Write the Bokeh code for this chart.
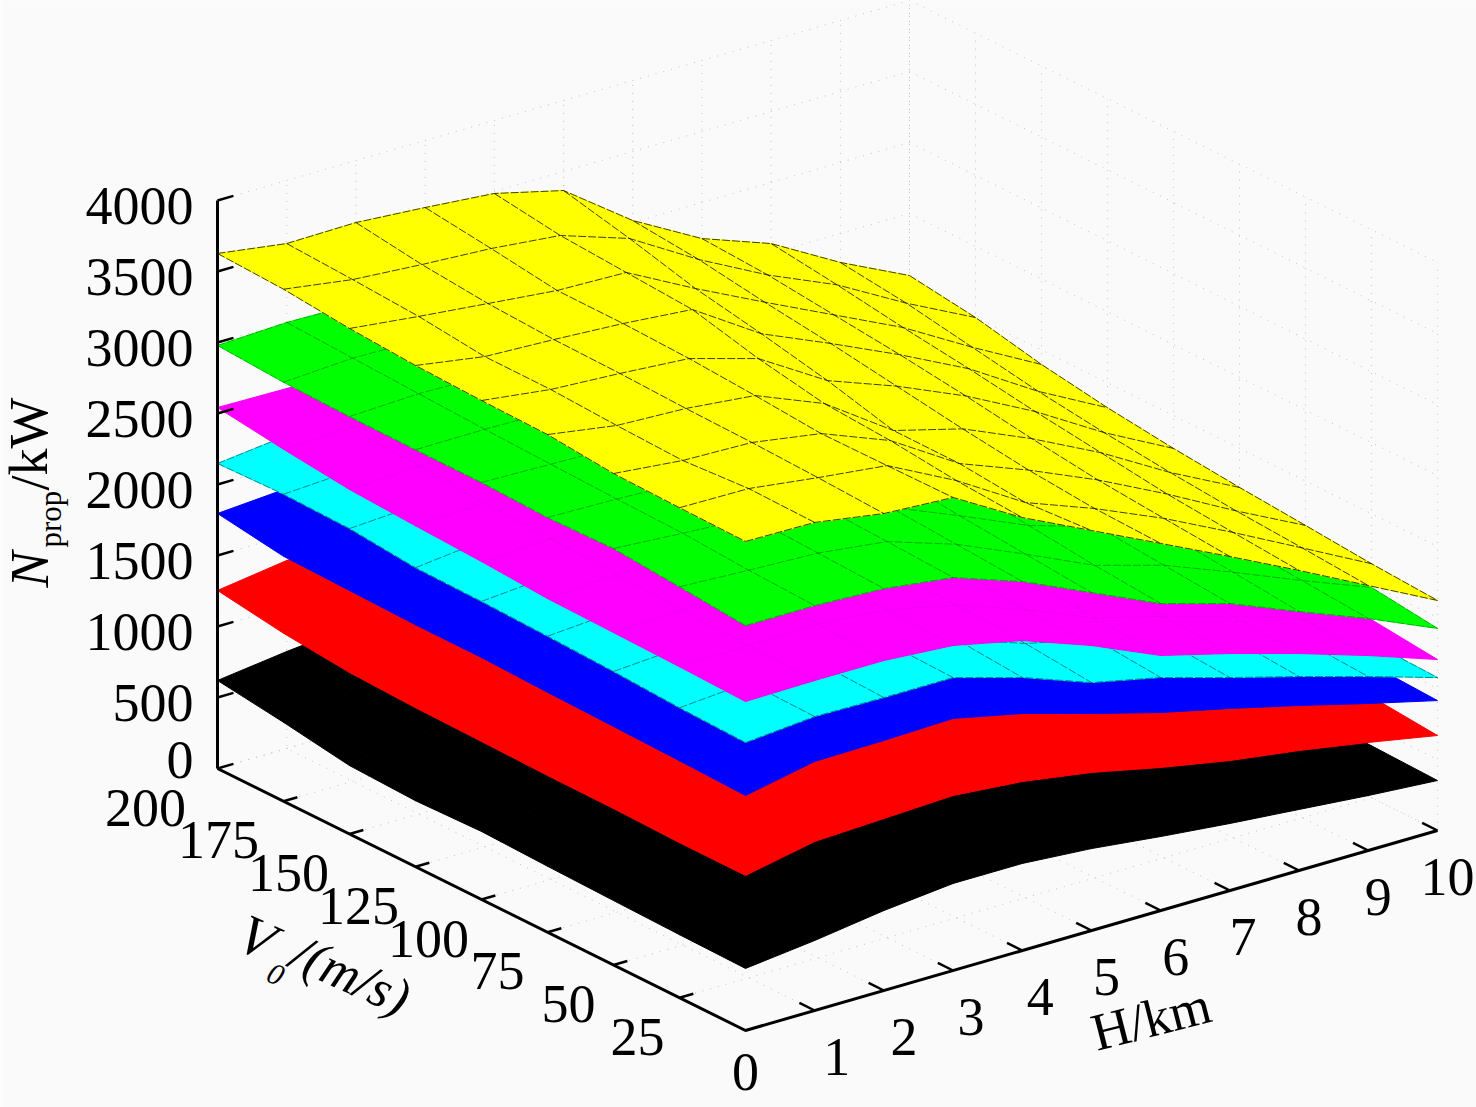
from bokeh.plotting import figure
from bokeh.models import Range1d
from bokeh.embed import file_html
from bokeh.resources import INLINE
from bokeh.core.properties import value

# ---- data ----
H_km = [0, 1, 2, 3, 4, 5, 6, 7, 8, 9, 10]
V_ms = [200, 175, 150, 125, 100, 75, 50, 25, 0]
N_ticks = [0, 500, 1000, 1500, 2000, 2500, 3000, 3500, 4000]

black_kw = [
    [620, 683, 732, 760, 760, 720, 650, 580, 520, 460, 410],
    [556, 640, 700, 730, 730, 695, 630, 565, 505, 445, 400],
    [482, 600, 670, 710, 710, 675, 610, 550, 495, 435, 395],
    [465, 570, 640, 690, 690, 655, 595, 535, 480, 425, 390],
    [479, 550, 620, 670, 670, 635, 580, 520, 470, 415, 385],
    [465, 530, 600, 655, 650, 620, 565, 505, 455, 405, 380],
    [454, 515, 585, 640, 635, 605, 550, 495, 445, 400, 375],
    [444, 500, 575, 625, 625, 590, 535, 480, 435, 390, 366],
    [437, 493, 563, 613, 613, 577, 521, 472, 430, 387, 352],
]
red_kw = [
    [1254, 1324, 1340, 1340, 1300, 1230, 1120, 1020, 930, 840, 750],
    [1183, 1290, 1310, 1320, 1285, 1215, 1105, 1005, 920, 830, 740],
    [1137, 1260, 1290, 1305, 1270, 1200, 1090, 990, 910, 820, 735],
    [1120, 1240, 1270, 1290, 1255, 1185, 1080, 975, 900, 810, 730],
    [1113, 1225, 1255, 1275, 1240, 1170, 1065, 965, 890, 800, 725],
    [1104, 1215, 1240, 1265, 1230, 1155, 1050, 950, 880, 790, 720],
    [1102, 1205, 1230, 1255, 1215, 1140, 1035, 940, 870, 780, 715],
    [1092, 1195, 1220, 1245, 1200, 1125, 1020, 925, 855, 770, 711],
    [1092, 1190, 1211, 1232, 1190, 1113, 1007, 915, 845, 761, 669],
]
blue_kw = [
    [1796, 1831, 1840, 1820, 1760, 1680, 1550, 1420, 1290, 1160, 1040],
    [1725, 1800, 1820, 1810, 1750, 1660, 1530, 1400, 1270, 1140, 1020],
    [1715, 1790, 1810, 1805, 1740, 1640, 1510, 1385, 1255, 1125, 1005],
    [1704, 1780, 1800, 1800, 1730, 1620, 1490, 1370, 1240, 1110, 990],
    [1704, 1775, 1790, 1795, 1715, 1600, 1470, 1350, 1225, 1095, 975],
    [1690, 1770, 1780, 1790, 1705, 1580, 1450, 1335, 1210, 1080, 960],
    [1680, 1765, 1775, 1785, 1695, 1560, 1430, 1320, 1195, 1065, 950],
    [1669, 1760, 1768, 1780, 1680, 1545, 1410, 1300, 1180, 1050, 937],
    [1655, 1754, 1761, 1775, 1669, 1528, 1394, 1282, 1162, 1035, 915],
]
cyan_kw = [
    [2148, 2204, 2200, 2180, 2120, 2000, 1880, 1720, 1560, 1400, 1260],
    [2162, 2190, 2190, 2170, 2100, 1980, 1860, 1700, 1540, 1380, 1240],
    [2151, 2180, 2170, 2150, 2080, 1950, 1830, 1680, 1520, 1360, 1220],
    [2106, 2160, 2160, 2130, 2060, 1920, 1800, 1650, 1490, 1340, 1200],
    [2099, 2140, 2140, 2120, 2030, 1890, 1770, 1620, 1470, 1320, 1180],
    [2085, 2120, 2120, 2110, 2010, 1860, 1740, 1590, 1450, 1290, 1150],
    [2067, 2100, 2100, 2090, 1990, 1830, 1710, 1570, 1430, 1270, 1130],
    [2042, 2080, 2080, 2075, 1960, 1790, 1680, 1530, 1400, 1250, 1093],
    [2028, 2070, 2063, 2063, 1923, 1746, 1641, 1500, 1366, 1225, 1077],
]
magenta_kw = [
    [2542, 2535, 2520, 2490, 2400, 2280, 2100, 1950, 1800, 1650, 1530],
    [2479, 2490, 2490, 2460, 2370, 2240, 2060, 1920, 1770, 1620, 1490],
    [2426, 2450, 2460, 2430, 2340, 2200, 2020, 1880, 1730, 1580, 1450],
    [2401, 2420, 2430, 2400, 2310, 2170, 1980, 1840, 1700, 1540, 1410],
    [2380, 2400, 2410, 2380, 2280, 2130, 1940, 1800, 1660, 1500, 1380],
    [2350, 2380, 2390, 2360, 2260, 2100, 1900, 1760, 1620, 1470, 1340],
    [2341, 2360, 2370, 2340, 2230, 2070, 1870, 1730, 1590, 1440, 1300],
    [2331, 2340, 2350, 2310, 2200, 2030, 1830, 1700, 1560, 1400, 1254],
    [2317, 2324, 2324, 2289, 2183, 2007, 1796, 1669, 1528, 1373, 1204],
]
green_kw = [
    [2979, 3000, 2990, 2950, 2880, 2750, 2550, 2350, 2160, 1990, 1820],
    [2951, 2980, 2970, 2930, 2850, 2710, 2500, 2310, 2120, 1950, 1770],
    [2940, 2960, 2950, 2910, 2810, 2660, 2450, 2270, 2080, 1900, 1720],
    [2937, 2940, 2930, 2880, 2770, 2610, 2400, 2230, 2040, 1850, 1680],
    [2937, 2925, 2910, 2860, 2730, 2560, 2350, 2190, 2000, 1800, 1640],
    [2921, 2910, 2890, 2830, 2700, 2510, 2300, 2150, 1960, 1750, 1590],
    [2933, 2900, 2870, 2810, 2660, 2460, 2250, 2100, 1910, 1700, 1538],
    [2894, 2870, 2850, 2790, 2630, 2420, 2200, 2060, 1870, 1670, 1481],
    [2852, 2852, 2831, 2768, 2599, 2380, 2162, 2021, 1824, 1634, 1423],
]
yellow_kw = [
    [3627, 3556, 3563, 3528, 3486, 3366, 3014, 2746, 2570, 2296, 2063],
    [3606, 3533, 3498, 3470, 3421, 3259, 2970, 2720, 2510, 2240, 1998],
    [3560, 3504, 3454, 3405, 3391, 3137, 2900, 2670, 2440, 2160, 1898],
    [3530, 3452, 3431, 3403, 3361, 3049, 2840, 2620, 2380, 2080, 1824],
    [3514, 3451, 3423, 3387, 3246, 2950, 2770, 2560, 2310, 2020, 1768],
    [3505, 3428, 3407, 3357, 3160, 2829, 2700, 2490, 2250, 1970, 1724],
    [3461, 3412, 3398, 3320, 3130, 2827, 2640, 2430, 2190, 1930, 1687],
    [3451, 3445, 3381, 3325, 3079, 2783, 2600, 2390, 2150, 1900, 1648],
    [3444, 3437, 3359, 3331, 3049, 2817, 2585, 2352, 2113, 1866, 1620],
]
surfaces = [
    (black_kw, "#000000", 0.0),
    (red_kw, "#ff0000", 0.0),
    (blue_kw, "#0000ff", 0.0),
    (cyan_kw, "#00ffff", 0.45),
    (magenta_kw, "#ff00ff", 0.05),
    (green_kw, "#00ff00", 0.3),
    (yellow_kw, "#ffff00", 0.75),
]

BG = "#fafafa"
SERIF = value("Liberation Serif")


def sx(h, v):
    return 745 + 69.2 * h - 2.64 * v


def sy(h, v, n):
    return 1030 - 20 * h - 1.31 * v - 0.142 * n


p = figure(width=1476, height=1107, output_backend="svg", toolbar_location=None,
           x_range=Range1d(0, 1476), y_range=Range1d(1107, 0), min_border=0,
           background_fill_color=BG, border_fill_color=BG, outline_line_color=None)
p.axis.visible = False
p.grid.visible = False

# faint dotted grid on the back walls and the floor
gx, gy = [], []
for n in N_ticks:
    gx.append([sx(0, 200), sx(10, 200), sx(10, 0)])
    gy.append([sy(0, 200, n), sy(10, 200, n), sy(10, 0, n)])
for h in H_km:
    gx.append([sx(h, 0), sx(h, 200), sx(h, 200)])
    gy.append([sy(h, 0, 0), sy(h, 200, 0), sy(h, 200, 4000)])
for v in V_ms:
    gx.append([sx(0, v), sx(10, v), sx(10, v)])
    gy.append([sy(0, v, 0), sy(10, v, 0), sy(10, v, 4000)])
p.multi_line(gx, gy, line_color="#c0c0c0", line_width=1, line_dash="1 7")

# the seven surfaces, bottom one first, far cells before near cells
for table, colour, mesh_alpha in surfaces:
    xs, ys = [], []
    for i in range(len(V_ms) - 1):
        for j in range(len(H_km) - 2, -1, -1):
            cell = [(i, j), (i, j + 1), (i + 1, j + 1), (i + 1, j)]
            xs.append([sx(H_km[b], V_ms[a]) for a, b in cell])
            ys.append([sy(H_km[b], V_ms[a], table[a][b]) for a, b in cell])
    p.patches(xs, ys, fill_color=colour, line_color=colour, line_width=1)
    if mesh_alpha > 0:
        mx, my = [], []
        for i, v in enumerate(V_ms):
            mx.append([sx(h, v) for h in H_km])
            my.append([sy(h, v, table[i][j]) for j, h in enumerate(H_km)])
        for j, h in enumerate(H_km):
            mx.append([sx(h, v) for v in V_ms])
            my.append([sy(h, v, table[i][j]) for i, v in enumerate(V_ms)])
        p.multi_line(mx, my, line_color="#000000", line_alpha=mesh_alpha, line_width=1,
                     line_dash="8 2")

# axes
p.line([sx(0, 200), sx(0, 200)], [sy(0, 200, 0), sy(0, 200, 4000)], line_color="black", line_width=3)
p.line([sx(0, 200), sx(0, 0), sx(10, 0)], [sy(0, 200, 0), sy(0, 0, 0), sy(10, 0, 0)],
       line_color="black", line_width=3)
tx, ty = [], []
for n in N_ticks:
    tx.append([sx(0, 200), sx(0.23, 200)])
    ty.append([sy(0, 200, n), sy(0.23, 200, n)])
for v in V_ms[1:-1]:
    tx.append([sx(0, v), sx(0.2, v)])
    ty.append([sy(0, v, 0), sy(0.2, v, 0)])
for h in H_km[1:]:
    tx.append([sx(h, 0), sx(h, 5.8)])
    ty.append([sy(h, 0, 0), sy(h, 5.8, 0)])
p.multi_line(tx, ty, line_color="black", line_width=2.5)

# tick labels
TICK = "54px"
p.text([193] * 8, [sy(0, 200, n) + 5 for n in N_ticks[1:]], [str(n) for n in N_ticks[1:]],
       text_font=SERIF, text_font_size=TICK, text_align="right", text_baseline="middle", text_color="black")
p.text([193], [sy(0, 200, 0) - 9], ["0"], text_font=SERIF, text_font_size=TICK,
       text_align="right", text_baseline="middle", text_color="black")
v_offsets = [-72, -65, -61, -57, -53, -50, -45, -42]
p.text([sx(0, v) + d for v, d in zip(V_ms[:-1], v_offsets)],
       [sy(0, v, 0) + 39 for v in V_ms[:-1]], [str(v) for v in V_ms[:-1]],
       text_font=SERIF, text_font_size=TICK, text_align="center", text_baseline="middle", text_color="black")
h_offsets = [0, 22, 20, 18, 18, 15, 15, 13, 10, 10, 10]
p.text([sx(h, 0) + d for h, d in zip(H_km, h_offsets)],
       [sy(h, 0, 0) + (41 if h == 0 else 46) for h in H_km], [str(h) for h in H_km],
       text_font=SERIF, text_font_size=TICK, text_align="center", text_baseline="middle", text_color="black")

# axis titles
ang = 1.5708
p.text([29], [587], ["N"], angle=ang, text_font=SERIF, text_font_style="italic", text_font_size="54px",
       text_align="left", text_baseline="middle", text_color="black")
p.text([50], [547], ["prop"], angle=ang, text_font=SERIF, text_font_size="31px",
       text_align="left", text_baseline="middle", text_color="black")
p.text([29], [490], ["/kW"], angle=ang, text_font=SERIF, text_font_size="54px",
       text_align="left", text_baseline="middle", text_color="black")
a2 = -0.42
p.text([241], [930], ["V"], angle=a2, text_font=SERIF, text_font_style="italic", text_font_size="56px",
       text_align="left", text_baseline="alphabetic", text_color="black")
p.text([268], [971], ["0"], angle=a2, text_font=SERIF, text_font_style="italic", text_font_size="30px",
       text_align="left", text_baseline="alphabetic", text_color="black")
p.text([294], [949], ["/(m/s)"], angle=a2, text_font=SERIF, text_font_style="italic", text_font_size="53px",
       text_align="left", text_baseline="alphabetic", text_color="black")
p.text([1092], [1033], ["H/km"], angle=0.25, text_font=SERIF, text_font_size="53px",
       text_align="left", text_baseline="alphabetic", text_color="black")

open("out.html", "w").write(file_html(p, INLINE))
